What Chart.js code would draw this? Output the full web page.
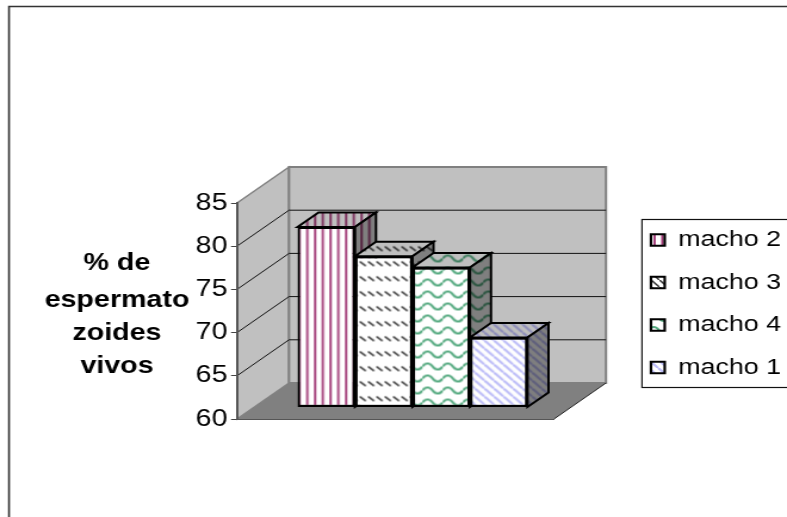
<!DOCTYPE html>
<html>
<head>
<meta charset="utf-8">
<style>
  html, body { margin: 0; padding: 0; background: #fff; overflow: hidden; }
  #wrap { position: absolute; left: 0; top: 0; transform-origin: 0 0; transform: scaleX(1.19242); }
</style>
<script src="https://cdn.jsdelivr.net/npm/chart.js@4"></script>
</head>
<body>
<div id="wrap"><canvas id="c" width="660" height="517"></canvas></div>
<script>
const categoryLabels = [''];
const seriesNames = ['macho 2', 'macho 3', 'macho 4', 'macho 1'];
const seriesValues = [80.9, 77.5, 76.2, 68.1];
const yTicks = [60, 65, 70, 75, 80, 85];
const titleLines = ['% de', 'espermato', 'zoides', 'vivos'];

// The canvas is 660 wide and stretched to 787 by CSS, so x figures are in canvas units.
const W = 660;
const SX = 787 / W;
const px = v => v / SX;
const WALL_DX = px(52), WALL_DY = -36;
const PLANE_DX = px(17), PLANE_DY = -11.5;
const BAR_DX = px(21), BAR_DY = -14.5;

function tile(w, h, paint) {
  const t = document.createElement('canvas');
  t.width = w; t.height = h;
  const g = t.getContext('2d');
  g.fillStyle = '#fff';
  g.fillRect(0, 0, w, h);
  paint(g);
  return g.createPattern(t, 'repeat');
}
function dash(g) {
  g.strokeStyle = '#333'; g.lineWidth = 1.6;
  g.beginPath(); g.moveTo(0.5, 3); g.lineTo(5.5, 7.5); g.stroke();
}
const patterns = [
  tile(13, 4, g => {
    g.fillStyle = '#A23A78';
    g.fillRect(2, 0, 1.9, 4);
    g.fillRect(8.5, 0, 1.9, 4);
  }),
  tile(7, 15, dash),
  tile(17, 12, g => {
    g.strokeStyle = '#55AA80'; g.lineWidth = 2.2;
    g.beginPath(); g.moveTo(0, 6);
    g.bezierCurveTo(2.5, 2, 6, 2, 8.5, 6);
    g.bezierCurveTo(11, 10, 14.5, 10, 17, 6);
    g.stroke();
  }),
  tile(8, 8, g => {
    g.strokeStyle = '#BCBCF8'; g.lineWidth = 2.2;
    [-8, 0, 8].forEach(o => {
      g.beginPath(); g.moveTo(o, 0); g.lineTo(o + 8, 8); g.stroke();
    });
  })
];
// The small legend swatch needs a tighter tile for its dashes to show.
const swatches = [patterns[0], tile(7, 7, g => {
  g.strokeStyle = '#333'; g.lineWidth = 1.5;
  g.beginPath(); g.moveTo(0, 0); g.lineTo(7, 7); g.stroke();
}), patterns[2], patterns[3]];

function poly(ctx, pts, fill, stroke, lw) {
  ctx.beginPath();
  pts.forEach((p, i) => i ? ctx.lineTo(p[0], p[1]) : ctx.moveTo(p[0], p[1]));
  ctx.closePath();
  if (fill) { ctx.fillStyle = fill; ctx.fill(); }
  if (stroke) { ctx.strokeStyle = stroke; ctx.lineWidth = lw; ctx.stroke(); }
}

// Frame, side and back walls, floor, gridlines and legend frame.
const backdrop = {
  id: 'backdrop',
  beforeDraw(chart) {
    const { ctx, chartArea: a, scales } = chart;
    ctx.save();
    ctx.strokeStyle = '#333'; ctx.lineWidth = 1.6;
    ctx.beginPath();
    ctx.moveTo(px(9), 517); ctx.lineTo(px(9), 6.5); ctx.lineTo(W + 5, 6.5);
    ctx.stroke();

    const l = a.left, r = a.right, t = a.top, b = a.bottom;
    const bl = l + WALL_DX, br = r + WALL_DX, tt = t + WALL_DY, bb = b + WALL_DY;
    poly(ctx, [[l, t], [bl, tt], [bl, bb], [l, b]], '#C0C0C0', '#808080', 1.5);
    poly(ctx, [[bl, tt], [br, tt], [br, bb], [bl, bb]], '#C0C0C0', '#808080', 2);
    poly(ctx, [[l, b], [bl, bb], [br, bb], [r, b]], '#808080', null, 0);
    ctx.strokeStyle = '#222'; ctx.lineWidth = 1;
    ctx.beginPath(); ctx.moveTo(r, b); ctx.lineTo(br, bb); ctx.stroke();

    ctx.strokeStyle = '#111'; ctx.lineWidth = 1;
    yTicks.slice(1, -1).forEach(v => {
      const y = scales.y.getPixelForValue(v);
      ctx.beginPath();
      ctx.moveTo(l, y); ctx.lineTo(bl, y + WALL_DY); ctx.lineTo(br, y + WALL_DY);
      ctx.stroke();
    });

    ctx.fillStyle = '#000';
    ctx.font = 'bold 24px "Liberation Sans", Arial, sans-serif';
    ctx.textAlign = 'center'; ctx.textBaseline = 'middle';
    [263, 300, 333, 366].forEach((y, i) => ctx.fillText(titleLines[i], px(117), y));

    ctx.strokeStyle = '#111'; ctx.lineWidth = 1.2;
    ctx.strokeRect(px(642), 219.5, W + 20 - px(642), 168);
    ctx.restore();
  },
  // Tops and right-hand faces, left to right so each bar hides its neighbour's side.
  beforeDatasetsDraw(chart) {
    const { ctx } = chart;
    ctx.save();
    ctx.translate(PLANE_DX, PLANE_DY);
    chart.data.datasets.forEach((ds, i) => {
      const bar = chart.getDatasetMeta(i).data[0];
      const x0 = bar.x - bar.width / 2, x1 = bar.x + bar.width / 2;
      const y0 = bar.y, y1 = bar.base;
      const top = [[x0, y0], [x0 + BAR_DX, y0 + BAR_DY], [x1 + BAR_DX, y0 + BAR_DY], [x1, y0]];
      const side = [[x1, y0], [x1 + BAR_DX, y0 + BAR_DY], [x1 + BAR_DX, y1 + BAR_DY], [x1, y1]];
      poly(ctx, top, patterns[i]);
      poly(ctx, top, 'rgba(0,0,0,0.25)', '#000', 2);
      poly(ctx, side, patterns[i]);
      poly(ctx, side, 'rgba(0,0,0,0.5)', '#000', 2);
    });
    ctx.restore();
  },
  beforeDatasetDraw(chart) {
    chart.ctx.save();
    chart.ctx.translate(PLANE_DX, PLANE_DY);
  },
  afterDatasetDraw(chart) {
    chart.ctx.restore();
  },
  afterLayout(chart) {
    const lg = chart.legend, pad = lg.options.labels.padding;
    const w = lg.width, h = lg.height;
    lg.left = px(651) - pad; lg.right = lg.left + w;
    lg.top = 228.75 - pad; lg.bottom = lg.top + h;
  }
};

new Chart(document.getElementById('c'), {
  type: 'bar',
  data: {
    labels: categoryLabels,
    datasets: seriesNames.map((name, i) => ({
      label: name,
      data: [seriesValues[i]],
      base: 60,
      backgroundColor: patterns[i],
      borderColor: '#000',
      borderWidth: 2.2,
      borderSkipped: false,
      barPercentage: 1,
      categoryPercentage: 0.7256
    }))
  },
  options: {
    responsive: false,
    animation: false,
    events: [],
    layout: { padding: { left: 0, top: 203, right: W - px(554), bottom: 98 } },
    scales: {
      x: {
        grid: { display: false },
        border: { display: true, color: '#555', width: 1 },
        ticks: { display: false },
        afterFit(s) { s.height = 0; }
      },
      y: {
        min: 60,
        max: 85,
        afterFit(s) { s.width = px(237); },
        afterBuildTicks(s) { s.ticks = yTicks.map(value => ({ value })); },
        grid: { drawOnChartArea: false, drawTicks: true, tickLength: 5, color: '#444' },
        border: { display: true, color: '#555', width: 2 },
        ticks: { color: '#000', padding: 3, font: { family: '"Liberation Sans", Arial, sans-serif', size: 24 } }
      }
    },
    plugins: {
      title: { display: false },
      tooltip: { enabled: false },
      legend: {
        position: 'chartArea',
        align: 'start',
        labels: {
          boxWidth: 11.5,
          boxHeight: 11.5,
          padding: 20,
          color: '#000',
          font: { family: '"Liberation Sans", Arial, sans-serif', size: 22.5 },
          generateLabels(chart) {
            return Chart.defaults.plugins.legend.labels.generateLabels(chart)
              .map((item, i) => Object.assign(item, { fillStyle: swatches[i] }));
          }
        }
      }
    }
  },
  plugins: [backdrop]
});
</script>
</body>
</html>
